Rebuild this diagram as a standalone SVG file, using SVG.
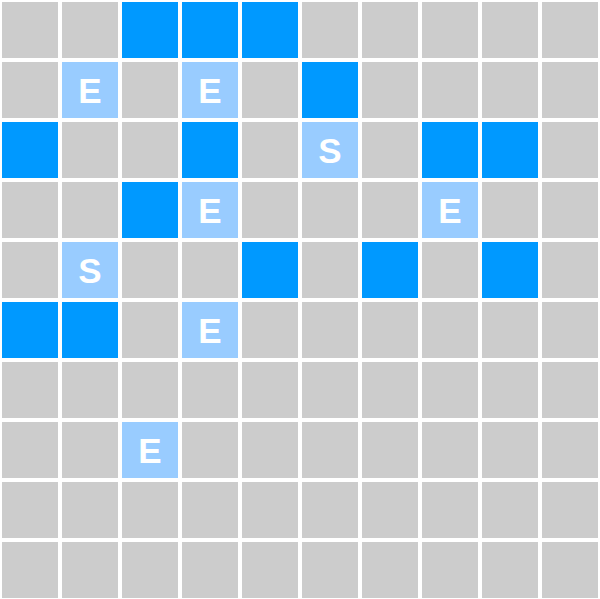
<svg xmlns="http://www.w3.org/2000/svg" width="600" height="599" viewBox="0 0 600 599">
<style>
.g{fill:#CCCCCC}
.d{fill:#0099FF}
.l{fill:#99CCFF}
.t{fill:#FFFFFF;font-family:"Liberation Sans",Arial,sans-serif;font-weight:bold;font-size:35px;text-anchor:middle;dominant-baseline:central}
</style>
<rect width="600" height="599" fill="#FFFFFF"/>
<defs>
<rect id="c" width="56" height="56"/>
</defs>
<g id="grid">
<g transform="translate(2,2)">
<!-- row 0 -->
<use href="#c" x="0" y="0" class="g"/><use href="#c" x="60" y="0" class="g"/><use href="#c" x="120" y="0" class="d"/><use href="#c" x="180" y="0" class="d"/><use href="#c" x="240" y="0" class="d"/><use href="#c" x="300" y="0" class="g"/><use href="#c" x="360" y="0" class="g"/><use href="#c" x="420" y="0" class="g"/><use href="#c" x="480" y="0" class="g"/><use href="#c" x="540" y="0" class="g"/>
<!-- row 1 -->
<use href="#c" x="0" y="60" class="g"/><use href="#c" x="60" y="60" class="l"/><use href="#c" x="120" y="60" class="g"/><use href="#c" x="180" y="60" class="l"/><use href="#c" x="240" y="60" class="g"/><use href="#c" x="300" y="60" class="d"/><use href="#c" x="360" y="60" class="g"/><use href="#c" x="420" y="60" class="g"/><use href="#c" x="480" y="60" class="g"/><use href="#c" x="540" y="60" class="g"/>
<!-- row 2 -->
<use href="#c" x="0" y="120" class="d"/><use href="#c" x="60" y="120" class="g"/><use href="#c" x="120" y="120" class="g"/><use href="#c" x="180" y="120" class="d"/><use href="#c" x="240" y="120" class="g"/><use href="#c" x="300" y="120" class="l"/><use href="#c" x="360" y="120" class="g"/><use href="#c" x="420" y="120" class="d"/><use href="#c" x="480" y="120" class="d"/><use href="#c" x="540" y="120" class="g"/>
<!-- row 3 -->
<use href="#c" x="0" y="180" class="g"/><use href="#c" x="60" y="180" class="g"/><use href="#c" x="120" y="180" class="d"/><use href="#c" x="180" y="180" class="l"/><use href="#c" x="240" y="180" class="g"/><use href="#c" x="300" y="180" class="g"/><use href="#c" x="360" y="180" class="g"/><use href="#c" x="420" y="180" class="l"/><use href="#c" x="480" y="180" class="g"/><use href="#c" x="540" y="180" class="g"/>
<!-- row 4 -->
<use href="#c" x="0" y="240" class="g"/><use href="#c" x="60" y="240" class="l"/><use href="#c" x="120" y="240" class="g"/><use href="#c" x="180" y="240" class="g"/><use href="#c" x="240" y="240" class="d"/><use href="#c" x="300" y="240" class="g"/><use href="#c" x="360" y="240" class="d"/><use href="#c" x="420" y="240" class="g"/><use href="#c" x="480" y="240" class="d"/><use href="#c" x="540" y="240" class="g"/>
<!-- row 5 -->
<use href="#c" x="0" y="300" class="d"/><use href="#c" x="60" y="300" class="d"/><use href="#c" x="120" y="300" class="g"/><use href="#c" x="180" y="300" class="l"/><use href="#c" x="240" y="300" class="g"/><use href="#c" x="300" y="300" class="g"/><use href="#c" x="360" y="300" class="g"/><use href="#c" x="420" y="300" class="g"/><use href="#c" x="480" y="300" class="g"/><use href="#c" x="540" y="300" class="g"/>
<!-- row 6 -->
<use href="#c" x="0" y="360" class="g"/><use href="#c" x="60" y="360" class="g"/><use href="#c" x="120" y="360" class="g"/><use href="#c" x="180" y="360" class="g"/><use href="#c" x="240" y="360" class="g"/><use href="#c" x="300" y="360" class="g"/><use href="#c" x="360" y="360" class="g"/><use href="#c" x="420" y="360" class="g"/><use href="#c" x="480" y="360" class="g"/><use href="#c" x="540" y="360" class="g"/>
<!-- row 7 -->
<use href="#c" x="0" y="420" class="g"/><use href="#c" x="60" y="420" class="g"/><use href="#c" x="120" y="420" class="l"/><use href="#c" x="180" y="420" class="g"/><use href="#c" x="240" y="420" class="g"/><use href="#c" x="300" y="420" class="g"/><use href="#c" x="360" y="420" class="g"/><use href="#c" x="420" y="420" class="g"/><use href="#c" x="480" y="420" class="g"/><use href="#c" x="540" y="420" class="g"/>
<!-- row 8 -->
<use href="#c" x="0" y="480" class="g"/><use href="#c" x="60" y="480" class="g"/><use href="#c" x="120" y="480" class="g"/><use href="#c" x="180" y="480" class="g"/><use href="#c" x="240" y="480" class="g"/><use href="#c" x="300" y="480" class="g"/><use href="#c" x="360" y="480" class="g"/><use href="#c" x="420" y="480" class="g"/><use href="#c" x="480" y="480" class="g"/><use href="#c" x="540" y="480" class="g"/>
<!-- row 9 -->
<use href="#c" x="0" y="540" class="g"/><use href="#c" x="60" y="540" class="g"/><use href="#c" x="120" y="540" class="g"/><use href="#c" x="180" y="540" class="g"/><use href="#c" x="240" y="540" class="g"/><use href="#c" x="300" y="540" class="g"/><use href="#c" x="360" y="540" class="g"/><use href="#c" x="420" y="540" class="g"/><use href="#c" x="480" y="540" class="g"/><use href="#c" x="540" y="540" class="g"/>
</g>
</g>
<g id="labels">
<text class="t" x="90" y="90">E</text>
<text class="t" x="210" y="90">E</text>
<text class="t" x="330" y="150">S</text>
<text class="t" x="210" y="210">E</text>
<text class="t" x="450" y="210">E</text>
<text class="t" x="90" y="270">S</text>
<text class="t" x="210" y="330">E</text>
<text class="t" x="150" y="450">E</text>
</g>
</svg>
